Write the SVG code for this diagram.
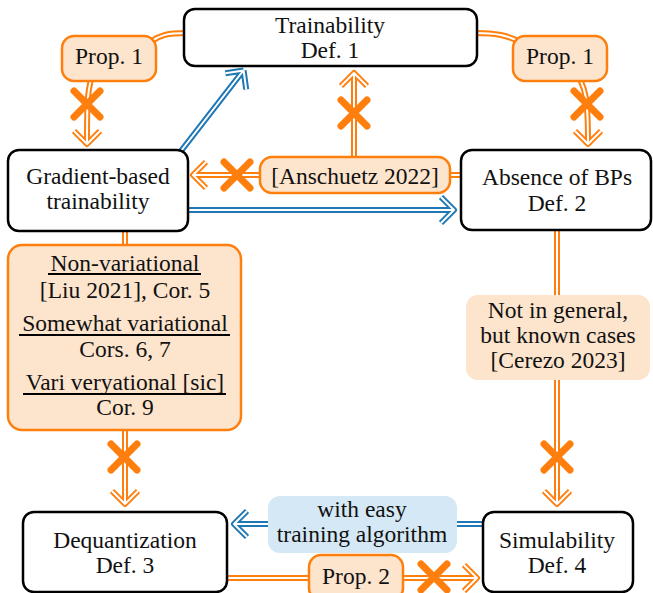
<svg xmlns="http://www.w3.org/2000/svg" xmlns:xlink="http://www.w3.org/1999/xlink" width="653" height="593" viewBox="0 0 653 593">
<style>
text{font-size:23.5px;fill:#111;text-anchor:middle}
.node{fill:#fff;stroke:#000;stroke-width:2.5}
.onode{fill:#fde4cc;stroke:#ff7f0e;stroke-width:2.5}
.olabel{fill:#fde4cc;stroke:none}
.blabel{fill:#d5e8f5;stroke:none}
.oo{fill:none;stroke:#ff7f0e;stroke-width:6;stroke-linejoin:round;stroke-linecap:butt}
.bo{fill:none;stroke:#1f77b4;stroke-width:6;stroke-linejoin:round;stroke-linecap:butt}
.in{fill:none;stroke:#fff;stroke-width:2;stroke-linejoin:round;stroke-linecap:butt}
.x{stroke:#ff7f0e;stroke-width:7;stroke-linecap:round;fill:none}
.ul{stroke:#000;stroke-width:1.8}
</style>
<defs>
<path id="c1" d="M186,33 C168,33 160,35 150,42"/>
<path id="c2" d="M91,79 C88,92 87,96 87,143 M74,131 L87,144 L100,131"/>
<path id="c3" d="M475,33 C495,33 508,35 522,43"/>
<path id="c4" d="M580,79 C585,90 588,96 588,143 M575,131 L588,144 L601,131"/>
<path id="c5" d="M181,151 L243,71 M246.2,89.3 L243.6,70.5 M225.4,73.2 L243.6,70.5"/>
<path id="c6" d="M188,210 L453,210 M441,197 L454,210 L441,223"/>
<path id="c7" d="M354,158 L354,74 M341,86 L354,73 L367,86"/>
<path id="c8" d="M262,175 L194,175 M206,162 L193,175 L206,188"/>
<path id="c9" d="M448,175 L463,175"/>
<path id="c10" d="M125,229 L125,247"/>
<path id="c11" d="M125,428 L125,503 M112,491 L125,504 L138,491"/>
<path id="c12" d="M557,228 L557,503 M544,491 L557,504 L570,491"/>
<path id="c13" d="M485,524 L455,524"/>
<path id="c14" d="M270,524 L235,524 M247,511 L234,524 L247,537"/>
<path id="c15" d="M225,578 L312,578"/>
<path id="c16" d="M401,578 L476,578 M464,565 L477,578 L464,591"/>
</defs>
<g id="connectors">
<use xlink:href="#c1" class="oo"/><use xlink:href="#c1" class="in"/>
<use xlink:href="#c2" class="oo"/><use xlink:href="#c2" class="in"/>
<use xlink:href="#c3" class="oo"/><use xlink:href="#c3" class="in"/>
<use xlink:href="#c4" class="oo"/><use xlink:href="#c4" class="in"/>
<use xlink:href="#c5" class="bo"/><use xlink:href="#c5" class="in"/>
<use xlink:href="#c6" class="bo"/><use xlink:href="#c6" class="in"/>
<use xlink:href="#c7" class="oo"/><use xlink:href="#c7" class="in"/>
<use xlink:href="#c8" class="oo"/><use xlink:href="#c8" class="in"/>
<use xlink:href="#c9" class="oo"/><use xlink:href="#c9" class="in"/>
<use xlink:href="#c10" class="oo"/><use xlink:href="#c10" class="in"/>
<use xlink:href="#c11" class="oo"/><use xlink:href="#c11" class="in"/>
<use xlink:href="#c12" class="oo"/><use xlink:href="#c12" class="in"/>
<use xlink:href="#c13" class="bo"/><use xlink:href="#c13" class="in"/>
<use xlink:href="#c14" class="bo"/><use xlink:href="#c14" class="in"/>
<use xlink:href="#c15" class="oo"/><use xlink:href="#c15" class="in"/>
<use xlink:href="#c16" class="oo"/><use xlink:href="#c16" class="in"/>
<path class="x" d="M74,91 L100,117 M100,91 L74,117"/>
<path class="x" d="M574,91 L600,117 M600,91 L574,117"/>
<path class="x" d="M341,100 L367,126 M367,100 L341,126"/>
<path class="x" d="M224,162 L250,188 M250,162 L224,188"/>
<path class="x" d="M111,444 L137,470 M137,444 L111,470"/>
<path class="x" d="M544,444 L570,470 M570,444 L544,470"/>
<path class="x" d="M421,564 L447,590 M447,564 L421,590"/>
</g>
<g font-family="Liberation Serif, Times New Roman, serif">
<g id="trainability">
<rect class="node" x="184" y="9" width="293" height="57" rx="11"/>
<text x="330" y="33">Trainability</text>
<text x="330" y="58">Def. 1</text>
</g>
<g id="prop1-left">
<rect class="onode" x="62" y="36" width="94" height="45" rx="12"/>
<text x="109" y="64">Prop. 1</text>
</g>
<g id="prop1-right">
<rect class="onode" x="513" y="36" width="94" height="45" rx="12"/>
<text x="560" y="64">Prop. 1</text>
</g>
<g id="gradient">
<rect class="node" x="8" y="150" width="180" height="81" rx="11"/>
<text x="98" y="184">Gradient-based</text>
<text x="98" y="209">trainability</text>
</g>
<g id="anschuetz">
<rect class="onode" x="260" y="157" width="190" height="36" rx="12"/>
<text x="355" y="184">[Anschuetz 2022]</text>
</g>
<g id="absence">
<rect class="node" x="461" y="150" width="190" height="80" rx="11"/>
<text x="557" y="185">Absence of BPs</text>
<text x="557" y="211">Def. 2</text>
</g>
<g id="variational">
<rect class="onode" x="8" y="245" width="233" height="185" rx="14"/>
<text x="125" y="271">Non-variational</text>
<line class="ul" x1="48" y1="274" x2="201" y2="274"/>
<text x="125" y="298">[Liu 2021], Cor. 5</text>
<text x="125" y="331">Somewhat variational</text>
<line class="ul" x1="19" y1="335" x2="230" y2="335"/>
<text x="125" y="357">Cors. 6, 7</text>
<text x="125" y="390">Vari veryational [sic]</text>
<line class="ul" x1="23" y1="394" x2="226" y2="394"/>
<text x="125" y="415">Cor. 9</text>
</g>
<g id="cerezo">
<rect class="olabel" x="466" y="295" width="184" height="85" rx="12"/>
<text x="558" y="318">Not in general,</text>
<text x="558" y="343">but known cases</text>
<text x="558" y="368">[Cerezo 2023]</text>
</g>
<g id="easy">
<rect class="blabel" x="268" y="496" width="189" height="57" rx="12"/>
<text x="362" y="517">with easy</text>
<text x="362" y="542">training algorithm</text>
</g>
<g id="dequantization">
<rect class="node" x="23" y="512" width="204" height="80" rx="11"/>
<text x="125" y="548">Dequantization</text>
<text x="125" y="573">Def. 3</text>
</g>
<g id="simulability">
<rect class="node" x="483" y="512" width="150" height="80" rx="11"/>
<text x="557" y="548">Simulability</text>
<text x="557" y="573">Def. 4</text>
</g>
<g id="prop2">
<rect class="onode" x="309" y="555" width="94" height="45" rx="12"/>
<text x="356" y="584">Prop. 2</text>
</g>
</g>
</svg>
